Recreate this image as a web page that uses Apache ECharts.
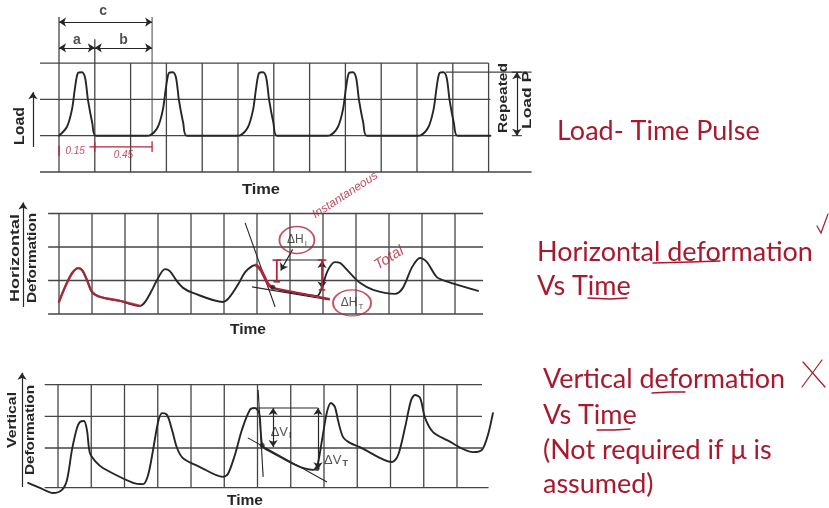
<!DOCTYPE html>
<html><head><meta charset="utf-8">
<script src="https://cdn.jsdelivr.net/npm/echarts@6/dist/echarts.min.js"></script>
<style>html,body{margin:0;padding:0;background:#fff}#c{width:829px;height:508px}</style>
</head><body><div id="c"></div>
<script>
// ===================== DATA =====================
// Column ticks (time, in grid columns) and level ticks for each panel
const loadVLines = [0,1,2,3,4,5,6,7,8,9,10,11,12];
const loadHLines = [0,1,2,3];
const horizVLines = [0,1,2,3,4,5,6,7,8,9,10,11,12];
const horizHLines = [0,1,2,3];
const vertVLines = [0,1,2,3,4,5,6,7,8,9,10,11,12];
const vertHLines = [-0.25,1,2,3];

// Load-time pulse (time in columns, load in grid levels)
const loadCurve = [
  [0,1],[0.22,1.24],[0.36,1.71],[0.45,2.34],[0.53,2.73],[0.64,2.75],[0.73,2.59],[0.81,1.98],[0.93,1.35],[1.03,1],
  [2.45,1],[2.54,1.01],[2.76,1.24],[2.9,1.71],[2.99,2.34],[3.07,2.73],[3.18,2.75],[3.27,2.59],[3.35,1.98],[3.47,1.35],[3.57,1],
  [4.97,1],[5.06,1.01],[5.28,1.24],[5.42,1.71],[5.51,2.34],[5.59,2.73],[5.7,2.75],[5.79,2.59],[5.87,1.98],[5.99,1.35],[6.09,1],
  [7.48,1],[7.57,1.01],[7.79,1.24],[7.93,1.71],[8.02,2.34],[8.1,2.73],[8.21,2.75],[8.3,2.59],[8.38,1.98],[8.5,1.35],[8.6,1],
  [10.01,1],[10.1,1.01],[10.32,1.24],[10.46,1.71],[10.55,2.34],[10.63,2.73],[10.74,2.75],[10.83,2.59],[10.91,1.98],[11.03,1.35],[11.13,1],
  [12.05,1]
];

// Horizontal deformation vs time
const horizCurve = [
  [0,0.36],[0.12,0.66],[0.27,0.99],[0.42,1.25],[0.58,1.37],[0.7,1.31],[0.85,1.01],[1.0,0.66],[1.24,0.51],[1.85,0.39],[2.45,0.24],
  [2.61,0.36],[2.82,0.72],[3.0,1.07],[3.21,1.34],[3.36,1.28],[3.55,1.01],[3.76,0.78],[4.06,0.63],[4.97,0.36],
  [5.15,0.48],[5.42,0.87],[5.64,1.25],[5.85,1.43],[5.97,1.46],[6.12,1.31],[6.33,0.9],[6.48,0.78],[7.15,0.63],[7.82,0.54],
  [7.97,0.81],[8.15,1.31],[8.36,1.55],[8.52,1.52],[8.82,1.22],[9.12,0.93],[9.52,0.72],[10.18,0.6],
  [10.42,0.78],[10.7,1.4],[10.94,1.67],[11.15,1.55],[11.45,1.1],[11.79,0.96],[12.7,0.69]
];

// Vertical deformation vs time
const vertCurve = [
  [-0.9,-0.1],[-0.54,-0.26],[-0.15,-0.42],[0.12,-0.32],[0.27,-0.01],[0.42,0.94],[0.57,1.63],[0.66,1.82],[0.78,1.85],[0.87,1.57],
  [0.96,0.84],[1.14,0.56],[1.35,0.37],[2.26,-0.1],[2.56,-0.14],[2.71,0.15],[2.86,0.94],[3.01,1.82],[3.13,2.1],[3.28,2.04],
  [3.43,1.57],[3.58,1.0],[3.76,0.68],[4.27,0.4],[4.96,0.09],[5.11,0.18],[5.32,0.78],[5.53,1.57],[5.77,2.2],[5.92,2.26],
  [6.05,2.1],[6.14,1.09],[6.29,0.94],[7.67,0.31],[7.79,0.4],[7.94,1.25],[8.09,2.14],[8.21,2.42],[8.33,2.29],[8.42,1.88],
  [8.57,1.35],[8.78,1.16],[9.08,1.03],[10.05,0.56],[10.23,0.78],[10.44,1.66],[10.62,2.51],[10.74,2.67],[10.89,2.58],[11.04,1.95],
  [11.28,1.5],[11.7,1.25],[12.48,0.87],[12.75,0.94],[12.93,1.41],[13.08,2.1]
];

// Annotation geometry (data units of each panel)
const loadPeakLevel = 2.75;
const periodStarts = [0, 1, 2.6];                 // c = a + b dimension stations
const horizTangents = [[[5.64,2.72],[6.55,0.21]], [[5.85,0.81],[8.21,0.42]]];
const horizRedTangent = [[6.48,0.78],[8.21,0.45]];
const horizInstBracket = {x:6.6, top:1.61, bottom:0.96};
const horizTotBracket = {x:7.97, top:1.61, bottom:0.72};
const vertTangents = [[[6.02,2.83],[6.17,0.09]], [[5.71,1.32],[8.09,-0.07]]];
const vertPeakLine = [[5.98,2.26],[7.82,2.26]];
const vertDeltaI = {x:6.47, top:2.26, bottom:1.03};
const vertDeltaT = {x:7.82, top:2.26, bottom:0.33};

// ===================== STYLE =====================
const INK = '#262626', GRID = '#454545', RED = '#b3243a', SLIDE = '#a8192e';
const S = [];
function seg(g, a, b, color, width, z) {
  S.push({type:'line', xAxisIndex:g, yAxisIndex:g, data:[a,b], symbol:'none', clip:false, silent:true,
    animation:false, lineStyle:{color:color||GRID, width:width||1.3}, z:z||1});
}
function curve(g, pts, color, width, z, smooth) {
  S.push({type:'line', xAxisIndex:g, yAxisIndex:g, data:pts, symbol:'none', clip:false, silent:true,
    animation:false, smooth: smooth==null?0.3:smooth,
    lineStyle:{color:color, width:width, cap:'round', join:'round'}, z:z||3});
}
function arrows(g, list, color, width) {
  S.push({type:'line', xAxisIndex:g, yAxisIndex:g, data:[], silent:true, animation:false, clip:false, z:4,
    markLine:{silent:true, animation:false, symbolSize:7, label:{show:false}, emphasis:{disabled:true},
      lineStyle:{color:color||INK, width:width||1.2, type:'solid'},
      data:list.map(l => [{coord:l[0], symbol:l[2]}, {coord:l[1], symbol:l[3]}])}});
}
function txt(g, x, y, fmt, label, item, size) {
  S.push({type:'scatter', xAxisIndex:g, yAxisIndex:g, data:[[x,y]], symbolSize:size||1,
    itemStyle:item||{color:'rgba(0,0,0,0)'}, silent:true, animation:false, clip:false, z:6,
    label:Object.assign({show:true, position:'inside', formatter:fmt, color:INK, fontSize:12,
      fontFamily:'Liberation Sans'}, label||{})});
}
function dot(g, x, y) {
  S.push({type:'scatter', xAxisIndex:g, yAxisIndex:g, data:[[x,y]], symbolSize:5, itemStyle:{color:INK},
    silent:true, animation:false, clip:false, z:5});
}

// ----- Panel 0 : Load -----
loadHLines.forEach(y => seg(0, [-0.53,y], [y===0 ? 13.2 : (y===3 ? 12 : 12.05), y]));
loadVLines.forEach(x => seg(0, [x,0], [x,3]));
seg(0, [periodStarts[0],3], [periodStarts[0],4.27]);
seg(0, [periodStarts[1],3], [periodStarts[1],3.66]);
seg(0, [periodStarts[2],1], [periodStarts[2],4.27], GRID, 1);
seg(0, [10.8,loadPeakLevel], [13.2,loadPeakLevel]);
curve(0, loadCurve, INK, 1.9);
arrows(0, [
  [[-0.73,0.69],[-0.73,2.2],'none','arrow'],
  [[periodStarts[0],4.13],[periodStarts[2],4.13],'arrow','arrow'],
  [[periodStarts[0],3.42],[periodStarts[1],3.42],'arrow','arrow'],
  [[periodStarts[1],3.42],[periodStarts[2],3.42],'arrow','arrow'],
  [[12.79,loadPeakLevel],[12.79,1],'arrow','arrow']
]);
seg(0, [12.65,loadPeakLevel],[12.93,loadPeakLevel], INK, 1);
seg(0, [12.65,1],[12.93,1], INK, 1);
txt(0, 1.23, 4.42, 'c', {fontSize:14, fontWeight:'bold'});
txt(0, 0.5, 3.63, 'a', {fontSize:14, fontWeight:'bold'});
txt(0, 1.8, 3.63, 'b', {fontSize:14, fontWeight:'bold'});
// red handwritten notes
seg(0, [0,0.44],[0,0.72], RED, 1.3, 5);
seg(0, [0.85,0.69],[2.6,0.69], RED, 1.3, 5);
seg(0, [1.0,0.56],[1.0,0.82], RED, 1.3, 5);
seg(0, [2.6,0.55],[2.6,0.85], RED, 1.3, 5);
txt(0, 0.45, 0.58, '0.15', {color:RED, fontSize:10, fontStyle:'italic'});
txt(0, 1.8, 0.45, '0.45', {color:RED, fontSize:10, fontStyle:'italic'});

// ----- Panel 1 : Horizontal deformation -----
horizHLines.forEach(y => seg(1, [-0.33,y], [12.85,y]));
horizVLines.forEach(x => seg(1, [x,0], [x,3]));
curve(1, horizCurve, INK, 1.9);
curve(1, horizCurve.slice(0,11), 'rgba(185,40,60,0.85)', 2.4, 4);
curve(1, horizCurve.slice(24,28), RED, 3, 4);
horizTangents.forEach(t => seg(1, t[0], t[1], INK, 1.1, 2));
seg(1, horizRedTangent[0], horizRedTangent[1], RED, 2, 4);
seg(1, [horizInstBracket.x, horizInstBracket.top], [horizTotBracket.x, horizTotBracket.top], INK, 1.1, 2);
[horizInstBracket, horizTotBracket].forEach(b => {
  seg(1, [b.x,b.top],[b.x,b.bottom], RED, 1.8, 5);
  seg(1, [b.x-0.13,b.top],[b.x+0.13,b.top], RED, 1.6, 5);
  seg(1, [b.x-0.1,b.bottom],[b.x+0.1,b.bottom], RED, 1.6, 5);
});
arrows(1, [
  [[-1.09,0.21],[-1.09,3.33],'none','arrow'],
  [[7.08,1.93],[6.72,1.3],'none','arrow'],
  [[horizTotBracket.x,1.3],[horizTotBracket.x,1.58],'none','arrow'],
  [[horizTotBracket.x,1.0],[horizTotBracket.x,0.76],'none','arrow']
]);
dot(1, 6.48, 0.8);
const circLbl = {a:{fontSize:12, color:INK, fontFamily:'Liberation Sans'}, s:{fontSize:8, color:INK, fontFamily:'Liberation Sans', padding:[7,0,0,1]}};
txt(1, 7.21, 2.21, '{a|ΔH}{s|I}', {rich:circLbl}, {color:'rgba(255,255,255,0)', borderColor:RED, borderWidth:1.6}, [35,27]);
txt(1, 8.88, 0.33, '{a|ΔH}{s|T}', {rich:circLbl}, {color:'rgba(255,255,255,0)', borderColor:RED, borderWidth:1.6}, [38,26]);
txt(1, 8.67, 3.55, 'Instantaneous', {color:RED, fontSize:12, fontStyle:'italic', rotate:33});
txt(1, 10.0, 1.67, 'Total', {color:RED, fontSize:15, fontStyle:'italic', rotate:32});

// ----- Panel 2 : Vertical deformation -----
vertHLines.forEach(y => seg(2, [-0.4,y], [y<0 ? 12.95 : 12.75, y]));
vertVLines.forEach(x => seg(2, [x,-0.25], [x,3]));
curve(2, vertCurve, INK, 1.9);
vertTangents.forEach(t => seg(2, t[0], t[1], INK, 1.1, 2));
seg(2, vertPeakLine[0], vertPeakLine[1], INK, 1.1, 2);
arrows(2, [
  [[-1.08,-0.23],[-1.08,3.37],'none','arrow'],
  [[vertDeltaI.x,vertDeltaI.top],[vertDeltaI.x,vertDeltaI.bottom],'arrow','arrow'],
  [[vertDeltaT.x,vertDeltaT.top],[vertDeltaT.x,vertDeltaT.bottom],'arrow','arrow']
]);
dot(2, 6.14, 1.09);
dot(2, 7.79, 0.35);
const dvLbl = {a:{fontSize:13, color:INK, fontFamily:'Liberation Sans'}, s:{fontSize:9, color:INK, fontFamily:'Liberation Sans', fontWeight:'bold', padding:[7,0,0,1]}};
txt(2, 6.71, 1.5, '{a|ΔV}{s|I}', {rich:dvLbl});
txt(2, 8.36, 0.62, '{a|ΔV}{s|T}', {rich:dvLbl});

// ===================== TEXT (graphic) =====================
const cv = document.createElement('canvas').getContext('2d');
function measure(str, font){ cv.font = font; return cv.measureText(str).width; }
const G = [];
function gtext(str, x, y, font, opt) {
  opt = opt || {};
  const sx = opt.width ? opt.width / measure(str, font) : 1;
  G.push({type:'text', x:x, y:y, rotation:opt.rot||0, scaleX:sx, silent:true, z:100,
    style:{text:str, font:font, fill:opt.color||INK, align:opt.align||'center', verticalAlign:'middle'}});
}
const LBL = 'bold 14px "Liberation Sans"';
gtext('Time', 261, 190, LBL, {width:38});
gtext('Time', 248, 330, LBL, {width:36});
gtext('Time', 245, 501, LBL, {width:36});
gtext('Load', 20, 126, 'bold 15px "Liberation Sans"', {width:38, rot:Math.PI/2});
gtext('Horizontal', 15, 258, 'bold 13px "Liberation Sans"', {width:88, rot:Math.PI/2});
gtext('Deformation', 32, 258, 'bold 13px "Liberation Sans"', {width:90, rot:Math.PI/2});
gtext('Vertical', 12, 420, 'bold 13px "Liberation Sans"', {width:56, rot:Math.PI/2});
gtext('Deformation', 30, 430, 'bold 13px "Liberation Sans"', {width:90, rot:Math.PI/2});
gtext('Repeated', 503, 98, 'bold 13px "Liberation Sans"', {width:70, rot:Math.PI/2});
gtext('Load P', 527, 100, 'bold 13px "Liberation Sans"', {width:58, rot:Math.PI/2});

// slide text
const base = 27;
const fs = base * 276 / measure('Horizontal deformation', base + 'px Lato');
const SF = fs.toFixed(2) + 'px Lato';
const off = fs * 0.3;
[['Load- Time Pulse',557,139],['Horizontal deformation',537,260],['Vs Time',537,294],
 ['Vertical deformation',543,387],['Vs Time',543,423],['(Not required if \u03bc is',543,458],['assumed)',543,492]]
 .forEach(r => gtext(r[0], r[1], r[2]-off, SF, {align:'left', color:SLIDE}));
function gline(pts, w) { G.push({type:'polyline', shape:{points:pts}, silent:true, z:100, style:{stroke:SLIDE, lineWidth:w||1.4, fill:null, lineCap:'round'}}); }
gline([[653,263],[690,262],[720,261]]);
gline([[588,298],[610,299],[627,298]]);
gline([[652,393],[670,392],[685,392]]);
gline([[597,430],[615,430],[630,429]]);
gline([[817,226],[821,233],[828,214]], 1.2);
gline([[803,362],[825,387]], 1.2);
gline([[802,387],[822,360]], 1.2);

// ===================== CHART =====================
const chart = echarts.init(document.getElementById('c'), null, {renderer:'canvas'});
chart.setOption({
  animation:false,
  backgroundColor:'#ffffff',
  grid:[
    {left:5.3, top:5.02, width:537, height:185.13},
    {left:9.5, top:183.35, width:511.5, height:150.75},
    {left:8.125, top:368.75, width:515.375, height:133.14}
  ],
  xAxis:[
    {type:'value', gridIndex:0, min:-1.5, max:13.5, show:false},
    {type:'value', gridIndex:1, min:-1.5, max:14, show:false},
    {type:'value', gridIndex:2, min:-1.5, max:14, show:false}
  ],
  yAxis:[
    {type:'value', gridIndex:0, min:-0.5, max:4.6, show:false},
    {type:'value', gridIndex:1, min:-0.6, max:3.9, show:false},
    {type:'value', gridIndex:2, min:-0.7, max:3.5, show:false}
  ],
  series:S,
  graphic:G
});
</script></body></html>
